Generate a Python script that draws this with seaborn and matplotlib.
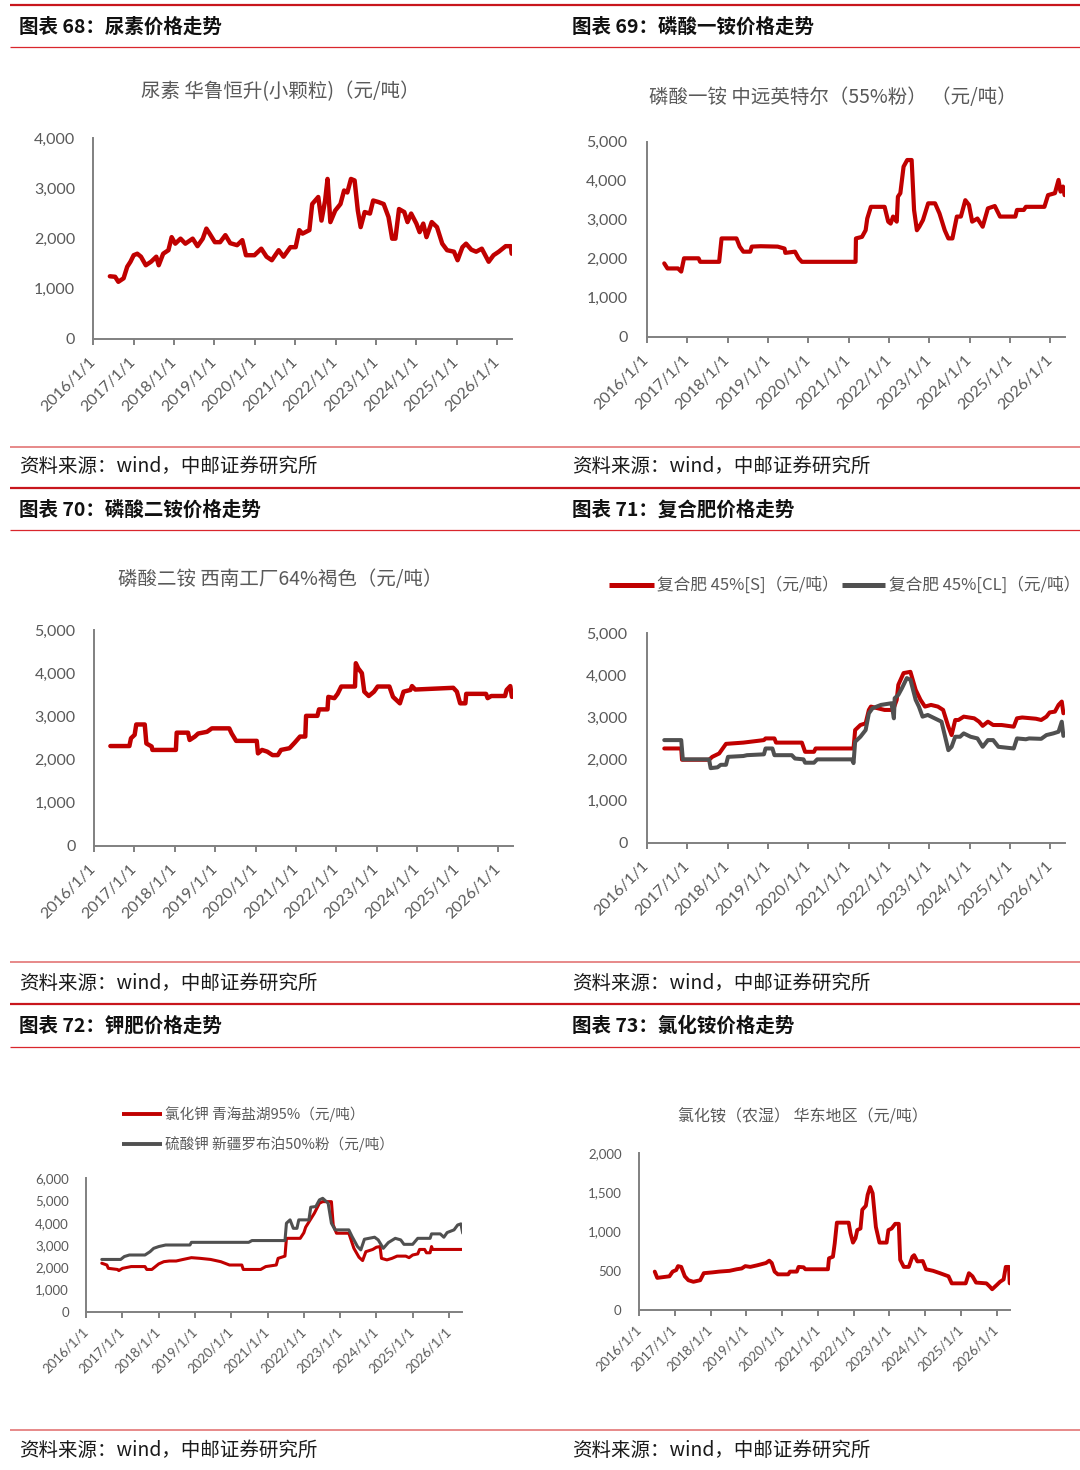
import numpy as np
import pandas as pd
import matplotlib
matplotlib.use("Agg")
import matplotlib.pyplot as plt
import seaborn as sns
from matplotlib.lines import Line2D

# ---------------- data ----------------
YEARS = list(range(2016, 2027))
YEAR_LABELS = [f"{y}/1/1" for y in YEARS]

UREA_T = [2016.41, 2016.54, 2016.62, 2016.75, 2016.84, 2016.92, 2017.00, 2017.09, 2017.18, 2017.30,
          2017.43, 2017.56, 2017.62, 2017.73, 2017.86, 2017.94, 2018.03, 2018.16, 2018.28, 2018.46,
          2018.58, 2018.71, 2018.80, 2018.88, 2019.01, 2019.14, 2019.27, 2019.39, 2019.56, 2019.69,
          2019.78, 2019.99, 2020.16, 2020.29, 2020.42, 2020.59, 2020.71, 2020.88, 2021.01, 2021.10,
          2021.18, 2021.35, 2021.42, 2021.57, 2021.65, 2021.74, 2021.80, 2021.87, 2021.99, 2022.12,
          2022.21, 2022.29, 2022.38, 2022.47, 2022.55, 2022.62, 2022.72, 2022.85, 2022.93, 2023.06,
          2023.19, 2023.31, 2023.40, 2023.48, 2023.57, 2023.70, 2023.78, 2023.87, 2024.00, 2024.08,
          2024.17, 2024.25, 2024.38, 2024.51, 2024.64, 2024.76, 2024.93, 2025.02, 2025.14, 2025.23,
          2025.36, 2025.48, 2025.62, 2025.79, 2025.91, 2026.04, 2026.21, 2026.34, 2026.36]
UREA_V = [1250, 1240, 1140, 1210, 1440, 1540, 1670, 1700, 1640, 1470,
          1540, 1640, 1470, 1700, 1770, 2030, 1900, 2000, 1900, 2000,
          1850, 2000, 2200, 2100, 1930, 1930, 2070, 1910, 1870, 1970,
          1670, 1670, 1800, 1640, 1570, 1770, 1640, 1830, 1830, 2170,
          2100, 2170, 2690, 2830, 2360, 2760, 3190, 2330, 2560, 2690,
          2960, 2920, 3190, 3160, 2560, 2230, 2530, 2500, 2760, 2730,
          2690, 2430, 2000, 2000, 2590, 2530, 2330, 2500, 2300, 2130,
          2300, 2030, 2330, 2230, 1900, 1770, 1740, 1570, 1830, 1900,
          1780, 1740, 1800, 1540, 1670, 1740, 1850, 1850, 1700]

MAP_T = [2016.43, 2016.51, 2016.77, 2016.85, 2016.92, 2017.28, 2017.32, 2017.79, 2017.85, 2018.22,
         2018.30, 2018.39, 2018.56, 2018.60, 2018.82, 2019.24, 2019.41, 2019.43, 2019.67, 2019.76,
         2019.84, 2021.17, 2021.18, 2021.33, 2021.42, 2021.46, 2021.55, 2021.89, 2021.98, 2022.04,
         2022.10, 2022.19, 2022.22, 2022.28, 2022.36, 2022.45, 2022.56, 2022.62, 2022.69, 2022.75,
         2022.84, 2022.97, 2023.14, 2023.25, 2023.38, 2023.47, 2023.57, 2023.68, 2023.78, 2023.89,
         2023.98, 2024.06, 2024.19, 2024.32, 2024.45, 2024.62, 2024.75, 2025.13, 2025.17, 2025.34,
         2025.39, 2025.85, 2025.94, 2026.11, 2026.20, 2026.25, 2026.31, 2026.35]
MAP_V = [1880, 1750, 1750, 1670, 2010, 2010, 1920, 1920, 2520, 2520,
         2310, 2180, 2180, 2310, 2320, 2310, 2260, 2150, 2180, 2010,
         1920, 1920, 2520, 2560, 2730, 3030, 3330, 3330, 2950, 2900,
         3080, 2950, 3590, 3680, 4360, 4530, 4530, 3250, 2730, 2820,
         2990, 3420, 3420, 3160, 2730, 2520, 2520, 3080, 3080, 3500,
         3380, 2950, 3030, 2820, 3290, 3350, 3080, 3080, 3250, 3250,
         3330, 3330, 3630, 3680, 4020, 3720, 3850, 3630]

DAP_T = [2016.41, 2016.88, 2016.92, 2017.01, 2017.05, 2017.26, 2017.30, 2017.43, 2017.45, 2018.03,
         2018.05, 2018.33, 2018.37, 2018.50, 2018.58, 2018.80, 2018.92, 2019.35, 2019.41, 2019.52,
         2020.03, 2020.06, 2020.16, 2020.29, 2020.42, 2020.55, 2020.63, 2020.84, 2020.97, 2021.10,
         2021.23, 2021.25, 2021.53, 2021.57, 2021.78, 2021.80, 2021.95, 2022.03, 2022.12, 2022.46,
         2022.48, 2022.54, 2022.63, 2022.69, 2022.80, 2022.93, 2023.02, 2023.31, 2023.40, 2023.57,
         2023.66, 2023.83, 2023.87, 2023.95, 2024.89, 2024.98, 2025.06, 2025.19, 2025.21, 2025.70,
         2025.74, 2025.83, 2026.17, 2026.21, 2026.30, 2026.34]
DAP_V = [2310, 2310, 2490, 2570, 2810, 2810, 2370, 2300, 2220, 2220,
         2620, 2620, 2450, 2530, 2600, 2640, 2720, 2720, 2600, 2430,
         2430, 2140, 2220, 2180, 2100, 2100, 2220, 2260, 2390, 2530,
         2530, 3010, 3010, 3160, 3160, 3450, 3420, 3520, 3690, 3690,
         4230, 4110, 4000, 3570, 3470, 3570, 3690, 3690, 3450, 3300,
         3570, 3610, 3700, 3620, 3660, 3570, 3300, 3300, 3520, 3520,
         3420, 3470, 3470, 3610, 3700, 3450]

NPK_S_T = [2016.43, 2016.85, 2016.87, 2017.54, 2017.62, 2017.79, 2017.96, 2018.39, 2018.90, 2018.94,
           2019.16, 2019.20, 2019.84, 2019.92, 2020.14, 2020.18, 2021.12, 2021.16, 2021.29, 2021.42,
           2021.50, 2021.55, 2021.89, 2022.10, 2022.19, 2022.23, 2022.36, 2022.53, 2022.66, 2022.78,
           2022.89, 2023.04, 2023.21, 2023.34, 2023.47, 2023.55, 2023.64, 2023.72, 2023.85, 2024.11,
           2024.23, 2024.32, 2024.45, 2024.58, 2024.79, 2025.09, 2025.17, 2025.30, 2025.64, 2025.77,
           2025.90, 2025.98, 2026.11, 2026.20, 2026.28, 2026.32]
NPK_S_V = [2250, 2250, 1980, 1980, 2050, 2130, 2360, 2390, 2450, 2490,
           2490, 2390, 2390, 2170, 2170, 2250, 2250, 2690, 2810, 2850,
           3170, 3250, 3170, 3170, 3410, 3770, 4050, 4080, 3650, 3410,
           3250, 3290, 3250, 3170, 2770, 2570, 2930, 2930, 3010, 2970,
           2890, 2790, 2890, 2810, 2810, 2770, 2970, 2990, 2960, 2930,
           3010, 3110, 3130, 3290, 3370, 3090]

NPK_CL_T = [2016.43, 2016.85, 2016.89, 2017.54, 2017.58, 2017.75, 2017.83, 2017.96, 2018.01, 2018.39,
            2018.48, 2018.90, 2018.94, 2019.11, 2019.16, 2019.59, 2019.67, 2019.88, 2019.92, 2020.14,
            2020.22, 2021.08, 2021.12, 2021.16, 2021.29, 2021.42, 2021.50, 2021.59, 2021.80, 2022.06,
            2022.12, 2022.14, 2022.23, 2022.32, 2022.44, 2022.53, 2022.66, 2022.74, 2022.83, 2022.96,
            2023.13, 2023.30, 2023.38, 2023.47, 2023.55, 2023.64, 2023.76, 2023.85, 2024.02, 2024.19,
            2024.32, 2024.45, 2024.58, 2024.71, 2025.09, 2025.17, 2025.39, 2025.47, 2025.77, 2025.90,
            2026.07, 2026.20, 2026.28, 2026.32]
NPK_CL_V = [2450, 2450, 1990, 1990, 1780, 1800, 1860, 1860, 2050, 2070,
            2090, 2110, 2250, 2250, 2090, 2090, 2010, 1990, 1910, 1910,
            1990, 1990, 1900, 2410, 2530, 2690, 3090, 3210, 3290, 3330,
            2970, 3450, 3530, 3690, 3930, 3890, 3410, 3250, 3010, 3050,
            2970, 2890, 2570, 2210, 2290, 2530, 2530, 2610, 2530, 2490,
            2290, 2450, 2450, 2290, 2250, 2490, 2470, 2490, 2480, 2570,
            2610, 2650, 2890, 2550]

KCL_T = [2016.43, 2016.57, 2016.61, 2016.86, 2016.90, 2017.00, 2017.24, 2017.62, 2017.67, 2017.81,
         2018.00, 2018.14, 2018.29, 2018.48, 2018.67, 2018.90, 2019.14, 2019.43, 2019.71, 2019.95,
         2020.29, 2020.33, 2020.81, 2020.95, 2021.24, 2021.29, 2021.48, 2021.52, 2021.90, 2022.00,
         2022.05, 2022.29, 2022.43, 2022.52, 2022.76, 2022.81, 2022.90, 2023.24, 2023.38, 2023.52,
         2023.62, 2023.71, 2023.90, 2024.00, 2024.10, 2024.14, 2024.29, 2024.43, 2024.57, 2024.81,
         2024.90, 2025.00, 2025.14, 2025.19, 2025.33, 2025.38, 2025.48, 2025.52, 2025.55, 2026.38]
KCL_V = [2180, 2100, 1950, 1900, 1850, 1950, 2030, 2030, 1900, 1900,
         2150, 2250, 2280, 2280, 2350, 2430, 2400, 2350, 2250, 2100,
         2100, 1900, 1900, 2030, 2100, 2400, 2500, 3300, 3300, 3550,
         3800, 4430, 4880, 4950, 4950, 3900, 3530, 3530, 2850, 2450,
         2300, 2700, 2800, 2900, 2930, 2400, 2330, 2400, 2500, 2500,
         2430, 2550, 2600, 2800, 2800, 2650, 2650, 2930, 2800, 2800]

SOP_T = [2016.43, 2016.95, 2017.05, 2017.19, 2017.62, 2017.76, 2017.86, 2018.00, 2018.19, 2018.86,
         2018.90, 2020.48, 2020.57, 2021.48, 2021.52, 2021.62, 2021.71, 2021.81, 2021.86, 2022.14,
         2022.19, 2022.33, 2022.43, 2022.52, 2022.67, 2022.76, 2022.86, 2023.24, 2023.33, 2023.48,
         2023.57, 2023.67, 2023.95, 2024.05, 2024.19, 2024.33, 2024.52, 2024.67, 2024.76, 2025.00,
         2025.14, 2025.48, 2025.52, 2025.76, 2025.86, 2025.95, 2026.14, 2026.24, 2026.33, 2026.38]
SOP_V = [2350, 2350, 2480, 2550, 2550, 2700, 2850, 2930, 3000, 3000,
         3120, 3120, 3200, 3200, 3980, 4130, 3750, 3750, 4130, 4130,
         4700, 4730, 5030, 5100, 4880, 3980, 3680, 3680, 3380, 2930,
         2780, 3260, 3350, 3230, 2850, 3110, 3300, 3230, 3030, 3030,
         3300, 3300, 3500, 3500, 3350, 3560, 3680, 3900, 3950, 3530]

NH4CL_T = [2016.44, 2016.51, 2016.85, 2016.94, 2017.04, 2017.09, 2017.18, 2017.28, 2017.38, 2017.52,
           2017.71, 2017.81, 2018.05, 2018.24, 2018.53, 2018.73, 2018.87, 2018.97, 2019.11, 2019.30,
           2019.55, 2019.64, 2019.71, 2019.79, 2019.88, 2020.17, 2020.22, 2020.41, 2020.46, 2020.60,
           2020.65, 2021.28, 2021.31, 2021.42, 2021.47, 2021.53, 2021.86, 2021.91, 2021.98, 2022.05,
           2022.10, 2022.19, 2022.24, 2022.34, 2022.39, 2022.46, 2022.53, 2022.62, 2022.72, 2022.92,
           2022.97, 2023.06, 2023.16, 2023.26, 2023.30, 2023.40, 2023.54, 2023.64, 2023.69, 2023.78,
           2023.93, 2024.02, 2024.22, 2024.41, 2024.65, 2024.74, 2025.13, 2025.22, 2025.32, 2025.42,
           2025.71, 2025.80, 2025.87, 2026.00, 2026.09, 2026.19, 2026.25, 2026.34, 2026.36]
NH4CL_V = [490, 410, 430, 490, 510, 560, 550, 430, 380, 360,
           380, 470, 480, 490, 500, 520, 530, 560, 550, 570,
           600, 630, 600, 490, 455, 455, 490, 490, 550, 545,
           520, 520, 660, 680, 850, 1115, 1115, 980, 860, 915,
           1020, 1040, 1280, 1330, 1470, 1570, 1490, 1060, 860, 860,
           1020, 1040, 1100, 1100, 640, 550, 550, 680, 700, 620,
           625, 520, 500, 470, 430, 340, 340, 470, 430, 350,
           340, 300, 265, 320, 360, 390, 550, 550, 340]

HEADERS = ["图表 68：尿素价格走势", "图表 69：磷酸一铵价格走势",
           "图表 70：磷酸二铵价格走势", "图表 71：复合肥价格走势",
           "图表 72：钾肥价格走势", "图表 73：氯化铵价格走势"]
SOURCE = "资料来源：wind，中邮证券研究所"
TITLE_UREA = "尿素 华鲁恒升(小颗粒)（元/吨）"
TITLE_MAP = "磷酸一铵 中远英特尔（55%粉） （元/吨）"
TITLE_DAP = "磷酸二铵 西南工厂64%褐色（元/吨）"
TITLE_NH4CL = "氯化铵（农湿） 华东地区（元/吨）"
NPK_NAMES = ["复合肥 45%[S]（元/吨）", "复合肥 45%[CL]（元/吨）"]
POTASH_NAMES = ["氯化钾 青海盐湖95%（元/吨）", "硫酸钾 新疆罗布泊50%粉（元/吨）"]

# ---------------- styling ----------------
sns.set_theme(style="white")
plt.rcParams["font.family"] = ["Noto Sans CJK SC", "DejaVu Sans"]
plt.rcParams["axes.unicode_minus"] = False

RED = "#C00000"
GRAY = "#505050"
TICK_C = "#595959"
SPINE_C = "#808080"
TEXT_C = "#595959"

W, H = 1080, 1470
fig = plt.figure(figsize=(10.8, 14.7), dpi=100)
fig.patch.set_facecolor("white")


def fx(x):
    return x / W


def fy(y):
    return 1 - y / H


def hline(y, x0, x1, color, lw):
    fig.add_artist(Line2D([fx(x0), fx(x1)], [fy(y), fy(y)], transform=fig.transFigure,
                          color=color, lw=lw, solid_capstyle="butt"))


def ftext(x, y, s, **kw):
    fig.text(fx(x), fy(y), s, **kw)


def add_ax(l, t, r, b):
    return fig.add_axes([fx(l), fy(b), (r - l) / W, (b - t) / H])


def series_df(pairs):
    frames = []
    for name, t, v in pairs:
        frames.append(pd.DataFrame({"date": t, "price": v, "series": name}))
    return pd.concat(frames, ignore_index=True)


def draw(ax, pairs, colors, lw):
    df = series_df(pairs)
    sns.lineplot(data=df, x="date", y="price", hue="series", palette=colors,
                 estimator=None, sort=False, legend=False, ax=ax, linewidth=lw,
                 solid_joinstyle="round", solid_capstyle="round")


def style(ax, ymax, ystep, fs, ypad, xpad):
    ax.set_xlim(2016, 2026.36)
    ax.set_ylim(0, ymax)
    ax.set_xticks(YEARS)
    ax.set_xticklabels(YEAR_LABELS, rotation=45, ha="right", va="center",
                       rotation_mode="anchor", fontsize=fs, color=TICK_C, family="Lato")
    yt = np.arange(0, ymax + 1, ystep)
    ax.set_yticks(yt)
    ax.set_yticklabels([f"{int(v):,}" for v in yt], fontsize=fs, color=TICK_C, family="Lato")
    for s in ["top", "right"]:
        ax.spines[s].set_visible(False)
    for s in ["left", "bottom"]:
        ax.spines[s].set_visible(True)
        ax.spines[s].set_color(SPINE_C)
        ax.spines[s].set_linewidth(1.4)
    ax.tick_params(axis="x", bottom=True, length=4, width=1.4, color=SPINE_C,
                   direction="out", pad=xpad)
    ax.tick_params(axis="y", left=False, length=0, pad=ypad)
    ax.set_xlabel("")
    ax.set_ylabel("")
    ax.grid(False)
    ax.patch.set_alpha(0)


# ---------------- page frame ----------------
for y in (5, 488, 1004):
    hline(y, 10, 1080, "#C8161D", 1.6)
for y in (47.3, 530, 1046.7):
    hline(y, 10, 1080, "#D9262C", 0.9)
for y in (446.7, 962.3, 1430):
    hline(y, 10, 1080, "#E06A6A", 1.1)

header_pos = [(19, 27), (572, 27), (19, 510.5), (572, 510.5), (19, 1026), (572, 1026)]
for (x, y), s in zip(header_pos, HEADERS):
    ftext(x, y, s, fontsize=14, fontweight="bold", color="#111111", va="center", ha="left")
for x in (19, 572):
    for y in (466, 983, 1450):
        ftext(x, y, SOURCE, fontsize=14, color="#1a1a1a", va="center", ha="left")

# ---------------- panel 1: urea ----------------
ax1 = add_ax(93.3, 138.3, 511.7, 339)
draw(ax1, [("urea", UREA_T, UREA_V)], [RED], 3.2)
style(ax1, 4000, 1000, 11.5, 13, 11)
ftext(280, 92, TITLE_UREA, fontsize=14, color=TEXT_C, ha="center", va="center")

# ---------------- panel 2: MAP ----------------
ax2 = add_ax(646.9, 141.7, 1065, 336.7)
draw(ax2, [("map", MAP_T, MAP_V)], [RED], 3.0)
style(ax2, 5000, 1000, 11.5, 14, 11)
ftext(833, 97, TITLE_MAP, fontsize=14, color=TEXT_C, ha="center", va="center")

# ---------------- panel 3: DAP ----------------
ax3 = add_ax(93.8, 630, 512.7, 845.7)
draw(ax3, [("dap", DAP_T, DAP_V)], [RED], 3.2)
style(ax3, 5000, 1000, 11.5, 13, 11)
ftext(280, 580, TITLE_DAP, fontsize=14, color=TEXT_C, ha="center", va="center")

# ---------------- panel 4: NPK ----------------
ax4 = add_ax(646.9, 633.3, 1065, 842.7)
draw(ax4, [(NPK_NAMES[0], NPK_S_T, NPK_S_V), (NPK_NAMES[1], NPK_CL_T, NPK_CL_V)], [RED, GRAY], 2.9)
style(ax4, 5000, 1000, 11.5, 14, 11)
hline(585, 609, 654, RED, 3.6)
ftext(657, 585, NPK_NAMES[0], fontsize=12, color=TEXT_C, ha="left", va="center")
hline(585, 842, 885, GRAY, 3.6)
ftext(889, 585, NPK_NAMES[1], fontsize=12, color=TEXT_C, ha="left", va="center")

# ---------------- panel 5: potash ----------------
ax5 = add_ax(86.2, 1178.3, 462, 1311.7)
draw(ax5, [(POTASH_NAMES[0], KCL_T, KCL_V), (POTASH_NAMES[1], SOP_T, SOP_V)], [RED, GRAY], 2.2)
style(ax5, 6000, 1000, 9.5, 12.5, 9)
hline(1114.3, 122, 162, RED, 2.8)
ftext(165, 1114.3, POTASH_NAMES[0], fontsize=10.5, color=TEXT_C, ha="left", va="center")
hline(1144.3, 122, 162, GRAY, 2.8)
ftext(165, 1144.3, POTASH_NAMES[1], fontsize=10.5, color=TEXT_C, ha="left", va="center")

# ---------------- panel 6: ammonium chloride ----------------
ax6 = add_ax(639, 1153.3, 1009.7, 1310)
draw(ax6, [("nh4cl", NH4CL_T, NH4CL_V)], [RED], 2.8)
style(ax6, 2000, 500, 9.5, 12.5, 9)
ftext(803, 1117, TITLE_NH4CL, fontsize=11.5, color=TEXT_C, ha="center", va="center")

fig.savefig("out.png", dpi=100, facecolor="white")
